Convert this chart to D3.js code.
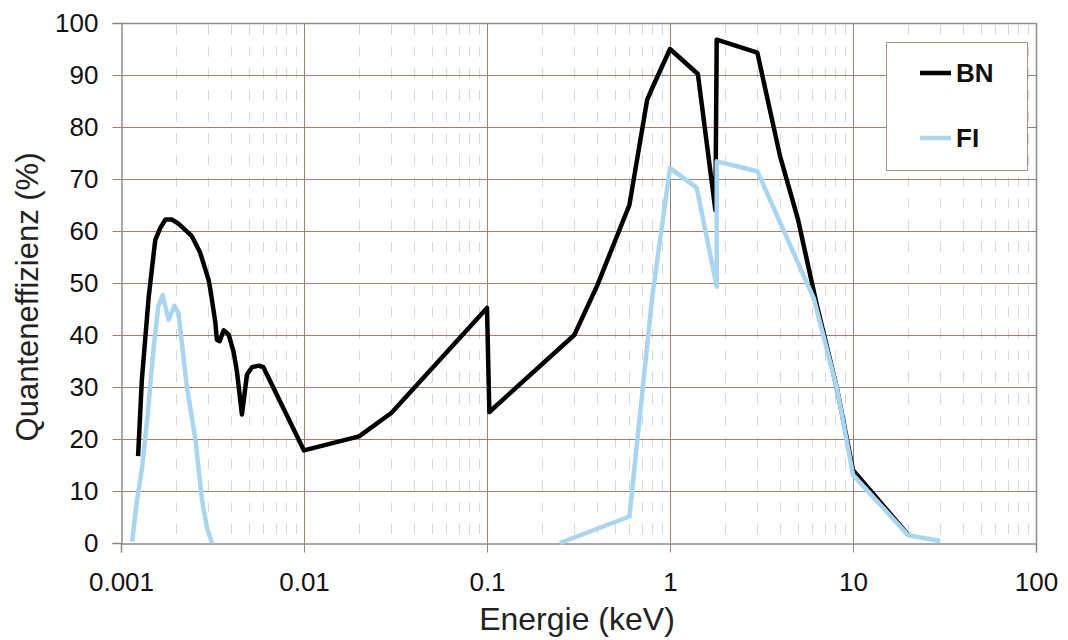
<!DOCTYPE html>
<html>
<head>
<meta charset="utf-8">
<script src="https://cdn.jsdelivr.net/npm/d3@7"></script>
<style>
  html, body { margin: 0; padding: 0; background: #fff; }
  svg { display: block; font-family: "Liberation Sans", Arial, sans-serif; }
</style>
</head>
<body>
<svg id="chart" width="1068" height="640"></svg>
<script>
// Quantum efficiency (%) versus photon energy (keV), two detector variants
const bnEnergy = [0.00124, 0.0013, 0.001415, 0.00151, 0.00154, 0.00164, 0.00175, 0.0019, 0.00206,
  0.00244, 0.00271, 0.00301, 0.00308, 0.00328, 0.00334, 0.00346, 0.00364, 0.00387, 0.00412,
  0.0043, 0.00458, 0.00488, 0.0052, 0.00565, 0.006, 0.01, 0.02, 0.03, 0.1, 0.103, 0.3, 0.4,
  0.6, 0.75, 0.8, 1, 1.42, 1.77, 1.8, 3, 4, 5, 6.3, 8.2, 10, 20];
const bnValues = [16.7, 31.4, 47.1, 55.8, 58.3, 60.6, 62.2, 62.2, 61.4,
  59, 55.8, 50.6, 48.7, 42.3, 39.1, 38.8, 40.9, 40.1, 36.8,
  33, 24.7, 32.4, 33.8, 34.1, 33.8, 17.8, 20.5, 25, 45.2, 25.2, 40, 49.5,
  65, 85.2, 87.5, 95, 90.2, 64, 96.8, 94.3, 74.3, 62.3, 46.2, 29.5, 14, 1.6];

// FI has no data between its low-energy and keV bands (null = gap)
const fiEnergy = [0.00115, 0.00122, 0.0013, 0.00139, 0.00151, 0.0016, 0.00169, 0.00182, 0.00196,
  0.00206, 0.00229, 0.00255, 0.00277, 0.00295, 0.00314, 0.05, 0.25, 0.6, 0.8, 1, 1.4, 1.8, 1.8,
  3, 6.1, 8.2, 10, 20, 30];
const fiValues = [0.3, 8, 14.1, 23.7, 37.8, 45.5, 47.7, 42.9, 45.6,
  44.2, 30.1, 19.9, 8.3, 2.9, 0, null, 0, 5.1, 47.4, 72.1, 68.3, 49.3, 73.4,
  71.5, 47.1, 29.5, 13.1, 1.5, 0.4];

const seriesNames = ["BN", "FI"];
const seriesColors = ["#000000", "#a9d5ef"];

const xTickValues = [0.001, 0.01, 0.1, 1, 10, 100];
const xTickLabels = ["0.001", "0.01", "0.1", "1", "10", "100"];
const yTickValues = [0, 10, 20, 30, 40, 50, 60, 70, 80, 90, 100];

const xTitle = "Energie (keV)";
const yTitle = "Quanteneffizienz (%)";

// plot frame
const plotLeft = 121, plotRight = 1036, plotTop = 23, plotBottom = 543;
const gridColor = "#9b7e74";
const frameColor = "#8d8d8d";

const svg = d3.select("#chart");

const x = d3.scaleLog().domain([0.001, 100]).range([plotLeft, plotRight]);
const y = d3.scaleLinear().domain([0, 100]).range([plotBottom, plotTop]);

// minor decade gridlines (dashed)
const minor = [];
for (let k = -3; k <= 1; k++) {
  for (let m = 2; m <= 9; m++) minor.push(m * Math.pow(10, k));
}
svg.append("g").selectAll("line").data(minor).join("line")
  .attr("x1", d => Math.round(x(d)) + 0.5).attr("x2", d => Math.round(x(d)) + 0.5)
  .attr("y1", plotTop + 2).attr("y2", plotBottom)
  .attr("stroke", "#d6d6d6").attr("stroke-width", 1)
  .attr("stroke-dasharray", "10,11.7");

// major gridlines
svg.append("g").selectAll("line").data(yTickValues.slice(1, -1)).join("line")
  .attr("x1", plotLeft).attr("x2", plotRight)
  .attr("y1", d => Math.round(y(d)) + 0.5).attr("y2", d => Math.round(y(d)) + 0.5)
  .attr("stroke", gridColor).attr("stroke-width", 1);
svg.append("g").selectAll("line").data(xTickValues.slice(1, -1)).join("line")
  .attr("x1", d => Math.round(x(d)) + 0.5).attr("x2", d => Math.round(x(d)) + 0.5)
  .attr("y1", plotTop).attr("y2", plotBottom)
  .attr("stroke", gridColor).attr("stroke-width", 1);

// frame top / right
svg.append("line").attr("x1", plotLeft).attr("x2", plotRight + 0.5)
  .attr("y1", plotTop + 0.5).attr("y2", plotTop + 0.5)
  .attr("stroke", frameColor).attr("stroke-width", 1.5);
svg.append("line").attr("x1", plotRight + 0.5).attr("x2", plotRight + 0.5)
  .attr("y1", plotTop).attr("y2", plotBottom)
  .attr("stroke", frameColor).attr("stroke-width", 1.5);

// axes
const yAxis = d3.axisLeft(y).tickValues(yTickValues).tickSize(9).tickPadding(14)
  .tickFormat(d3.format("d"));
const gy = svg.append("g").attr("transform", `translate(${plotLeft + 0.5},0)`).call(yAxis);
gy.select(".domain").attr("stroke", frameColor).attr("stroke-width", 1.5);
gy.selectAll(".tick line").attr("stroke", gridColor);
gy.selectAll(".tick text").attr("font-size", 26).attr("fill", "#111")
  .attr("font-family", "'Liberation Sans', Arial, sans-serif");

const xAxis = d3.axisBottom(x).tickValues(xTickValues).tickSize(9).tickPadding(20)
  .tickFormat((d, i) => xTickLabels[i]);
const gx = svg.append("g").attr("transform", `translate(0,${plotBottom + 0.5})`).call(xAxis);
gx.select(".domain").attr("stroke", frameColor).attr("stroke-width", 1.5);
gx.selectAll(".tick line").attr("stroke", gridColor);
gx.selectAll(".tick text").attr("font-size", 26).attr("fill", "#111")
  .attr("font-family", "'Liberation Sans', Arial, sans-serif");

// axis titles
svg.append("text").attr("x", 577).attr("y", 630)
  .attr("text-anchor", "middle").attr("font-size", 32).attr("fill", "#222").text(xTitle);
svg.append("text").attr("transform", "translate(38,297) rotate(-90)")
  .attr("text-anchor", "middle").attr("font-size", 31).attr("fill", "#222").text(yTitle);

// series
const series = [
  { name: seriesNames[0], color: seriesColors[0], pts: d3.zip(bnEnergy, bnValues) },
  { name: seriesNames[1], color: seriesColors[1], pts: d3.zip(fiEnergy, fiValues) }
];
const line = d3.line()
  .defined(d => d[1] !== null)
  .x(d => x(d[0])).y(d => y(d[1]));
svg.append("g").selectAll("path").data(series).join("path")
  .attr("d", d => line(d.pts))
  .attr("fill", "none").attr("stroke", d => d.color).attr("stroke-width", 4.5)
  .attr("stroke-linejoin", "round").attr("stroke-linecap", "butt");

// legend
const lg = svg.append("g");
lg.append("rect").attr("x", 886.5).attr("y", 42.5).attr("width", 141).attr("height", 128)
  .attr("fill", "#fff").attr("stroke", "#a8928a").attr("stroke-width", 1);
const legendY = [73, 138];
series.forEach((s, i) => {
  lg.append("line").attr("x1", 920).attr("x2", 951).attr("y1", legendY[i]).attr("y2", legendY[i])
    .attr("stroke", s.color).attr("stroke-width", 4.5);
  lg.append("text").attr("x", 956).attr("y", legendY[i] + 9).attr("font-size", 26)
    .attr("font-weight", "bold").attr("fill", "#111").text(s.name);
});
</script>
</body>
</html>
